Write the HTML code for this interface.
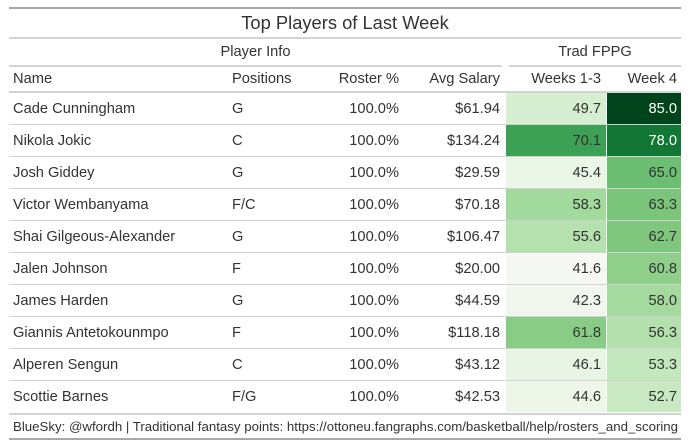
<!DOCTYPE html>
<html>
<head>
<meta charset="utf-8">
<style>
  html,body{margin:0;padding:0;background:#fff;}
  body{width:690px;height:447px;position:relative;overflow:hidden;
       font-family:"Liberation Sans",Arial,sans-serif;color:#333;font-size:14.67px;}
  .ab{position:absolute;}
  .line{position:absolute;left:9px;width:672px;}
  .t{position:absolute;white-space:nowrap;}
  .r{position:absolute;left:9px;width:672px;height:32px;}
  .r .bl{position:absolute;left:0;width:672px;bottom:0;height:1px;background:#d3d3d3;}
  .c{position:absolute;top:0;height:31px;line-height:32px;white-space:nowrap;}
  .nm{left:4px;}
  .ps{left:223px;}
  .ro{right:282px;text-align:right;}
  .av{right:181px;text-align:right;}
  .w1{left:497px;width:100px;padding-right:0;text-align:right;}
  .w1 span{position:absolute;right:5px;}
  .w4{left:598px;width:74px;text-align:right;}
  .w4 span{position:absolute;right:4px;}
</style>
</head>
<body>
  <!-- top border -->
  <div class="line" style="top:7px;height:2px;background:#a8a8a8;"></div>
  <!-- title -->
  <div class="t" style="left:9px;width:672px;top:9px;height:28px;line-height:28px;text-align:center;font-size:18.33px;">Top Players of Last Week</div>
  <div class="line" style="top:37px;height:2px;background:#d3d3d3;"></div>

  <!-- spanners -->
  <div class="t" style="left:9px;width:493px;top:39px;height:26px;line-height:26px;text-align:center;">Player Info</div>
  <div class="t" style="left:509px;width:172px;top:39px;height:26px;line-height:26px;text-align:center;">Trad FPPG</div>
  <div class="ab" style="left:9px;width:493px;top:65px;height:2px;background:#d3d3d3;"></div>
  <div class="ab" style="left:509px;width:172px;top:65px;height:2px;background:#d3d3d3;"></div>

  <!-- column labels -->
  <div class="r" style="top:67px;height:24px;">
    <div class="c nm" style="height:24px;line-height:25px;">Name</div>
    <div class="c ps" style="height:24px;line-height:25px;">Positions</div>
    <div class="c ro" style="height:24px;line-height:25px;">Roster %</div>
    <div class="c av" style="height:24px;line-height:25px;">Avg Salary</div>
    <div class="c" style="right:80px;height:24px;line-height:25px;">Weeks 1-3</div>
    <div class="c" style="right:4px;height:24px;line-height:25px;">Week 4</div>
  </div>
  <div class="line" style="top:91px;height:2px;background:#d3d3d3;"></div>

  <!-- rows -->
  <div class="r" style="top:93px;">
    <div class="c nm">Cade Cunningham</div><div class="c ps">G</div><div class="c ro">100.0%</div><div class="c av">$61.94</div>
    <div class="c w1" style="background:#d6efd0;"><span>49.7</span></div>
    <div class="c w4" style="background:#00441b;color:#fff;"><span>85.0</span></div>
    <div class="bl"></div>
  </div>
  <div class="r" style="top:125px;">
    <div class="c nm">Nikola Jokic</div><div class="c ps">C</div><div class="c ro">100.0%</div><div class="c av">$134.24</div>
    <div class="c w1" style="background:#3da155;"><span>70.1</span></div>
    <div class="c w4" style="background:#127634;color:#fff;"><span>78.0</span></div>
    <div class="bl"></div>
  </div>
  <div class="r" style="top:157px;">
    <div class="c nm">Josh Giddey</div><div class="c ps">G</div><div class="c ro">100.0%</div><div class="c av">$29.59</div>
    <div class="c w1" style="background:#eaf6e6;"><span>45.4</span></div>
    <div class="c w4" style="background:#6cbe73;"><span>65.0</span></div>
    <div class="bl"></div>
  </div>
  <div class="r" style="top:189px;">
    <div class="c nm">Victor Wembanyama</div><div class="c ps">F/C</div><div class="c ro">100.0%</div><div class="c av">$70.18</div>
    <div class="c w1" style="background:#a2d99c;"><span>58.3</span></div>
    <div class="c w4" style="background:#7ac57a;"><span>63.3</span></div>
    <div class="bl"></div>
  </div>
  <div class="r" style="top:221px;">
    <div class="c nm">Shai Gilgeous-Alexander</div><div class="c ps">G</div><div class="c ro">100.0%</div><div class="c av">$106.47</div>
    <div class="c w1" style="background:#b5e1ae;"><span>55.6</span></div>
    <div class="c w4" style="background:#80c77e;"><span>62.7</span></div>
    <div class="bl"></div>
  </div>
  <div class="r" style="top:253px;">
    <div class="c nm">Jalen Johnson</div><div class="c ps">F</div><div class="c ro">100.0%</div><div class="c av">$20.00</div>
    <div class="c w1" style="background:#f5f8f3;"><span>41.6</span></div>
    <div class="c w4" style="background:#8ecf8a;"><span>60.8</span></div>
    <div class="bl"></div>
  </div>
  <div class="r" style="top:285px;">
    <div class="c nm">James Harden</div><div class="c ps">G</div><div class="c ro">100.0%</div><div class="c av">$44.59</div>
    <div class="c w1" style="background:#f1f6ef;"><span>42.3</span></div>
    <div class="c w4" style="background:#a5da9f;"><span>58.0</span></div>
    <div class="bl"></div>
  </div>
  <div class="r" style="top:317px;">
    <div class="c nm">Giannis Antetokounmpo</div><div class="c ps">F</div><div class="c ro">100.0%</div><div class="c av">$118.18</div>
    <div class="c w1" style="background:#88cc86;"><span>61.8</span></div>
    <div class="c w4" style="background:#b3e0ad;"><span>56.3</span></div>
    <div class="bl"></div>
  </div>
  <div class="r" style="top:349px;">
    <div class="c nm">Alperen Sengun</div><div class="c ps">C</div><div class="c ro">100.0%</div><div class="c av">$43.12</div>
    <div class="c w1" style="background:#e8f5e4;"><span>46.1</span></div>
    <div class="c w4" style="background:#c4e8bd;"><span>53.3</span></div>
    <div class="bl"></div>
  </div>
  <div class="r" style="top:381px;">
    <div class="c nm">Scottie Barnes</div><div class="c ps">F/G</div><div class="c ro">100.0%</div><div class="c av">$42.53</div>
    <div class="c w1" style="background:#edf6e9;"><span>44.6</span></div>
    <div class="c w4" style="background:#c8e9c1;"><span>52.7</span></div>
  </div>

  <!-- footer -->
  <div class="line" style="top:413px;height:2px;background:#d3d3d3;"></div>
  <div class="t" style="left:13px;top:415px;height:23px;line-height:24px;font-size:13.25px;">BlueSky: @wfordh | Traditional fantasy points: https://ottoneu.fangraphs.com/basketball/help/rosters_and_scoring</div>
  <div class="line" style="top:438px;height:2px;background:#a8a8a8;"></div>
</body>
</html>
